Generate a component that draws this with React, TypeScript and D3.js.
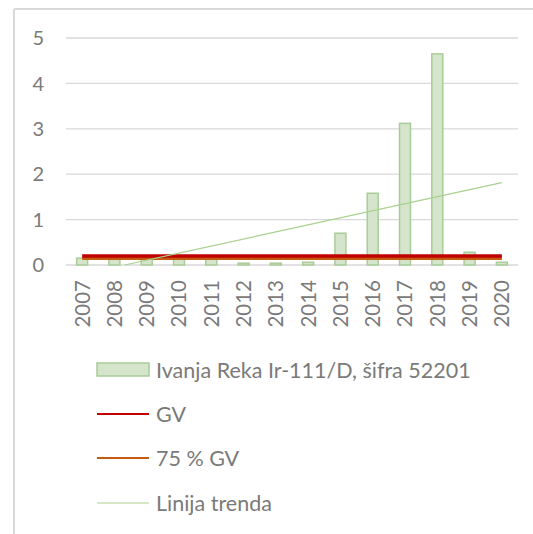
import React from 'react';
import * as d3 from 'd3';

const years = ['2007', '2008', '2009', '2010', '2011', '2012', '2013', '2014', '2015', '2016', '2017', '2018', '2019', '2020'];
const values = [0.15, 0.15, 0.15, 0.15, 0.15, 0.04, 0.04, 0.06, 0.7, 1.58, 3.12, 4.65, 0.28, 0.06];
const gv = 0.2;
const gv75 = 0.15;
const yTicks = [0, 1, 2, 3, 4, 5];
const seriesName = 'Ivanja Reka Ir-111/D, šifra 52201';
const legendNames = [seriesName, 'GV', '75 % GV', 'Linija trenda'];

const font = 'Lato, "Open Sans", sans-serif';
const textColor = '#7a7a7a';

const App = () => {
  const width = 533;
  const height = 534;
  const margin = { left: 66, right: 15 };

  const x = d3.scaleBand<string>().domain(years).range([margin.left, width - margin.right]).paddingInner(0.66).paddingOuter(0.33);
  const y = d3.scaleLinear().domain([0, 5]).range([265, 38]);
  const cx = (d: string) => (x(d) as number) + x.bandwidth() / 2;

  // linear trend (least squares over index 1..n), clipped to 0
  const n = values.length;
  const xs = values.map((_, i) => i + 1);
  const mx = d3.mean(xs) as number;
  const my = d3.mean(values) as number;
  const slope = d3.sum(xs, (xi, i) => (xi - mx) * (values[i] - my)) / d3.sum(xs, (xi) => (xi - mx) ** 2);
  const icpt = my - slope * mx;
  const x0 = -icpt / slope;
  const step = cx(years[1]) - cx(years[0]);
  const trendStartX = cx(years[0]) + (Math.max(1, x0) - 1) * step;
  const trendStartY = Math.max(0, icpt + slope * Math.max(1, x0));
  const trendEndY = icpt + slope * n;

  const gvLine = d3.line<number>().x((_, i) => cx(years[i])).y((v) => y(v));

  const legendY = [370, 414, 458, 503];

  return (
    <svg width={width} height={height} style={{ position: 'absolute', left: 0, top: 0, background: '#fff' }}>
      <rect x={0} y={0} width={width} height={height} fill="#fff" />
      <line x1={14} y1={9} x2={width} y2={9} stroke="#d9d9d9" strokeWidth={2} />
      <line x1={14} y1={9} x2={14} y2={height} stroke="#d9d9d9" strokeWidth={2} />

      {yTicks.map((t) => (
        <g key={t}>
          <line x1={margin.left} x2={width - margin.right} y1={y(t)} y2={y(t)} stroke="#d9d9d9" strokeWidth={1.3} />
          <text x={44} y={y(t)} dy="0.36em" textAnchor="end" fontFamily={font} fontSize={20} fill={textColor}>
            {t}
          </text>
        </g>
      ))}

      {years.map((yr, i) => (
        <rect
          key={yr}
          x={x(yr)}
          y={y(values[i])}
          width={x.bandwidth()}
          height={y(0) - y(values[i])}
          fill="#d5e5cb"
          stroke="#a9cc99"
          strokeWidth={1.5}
        />
      ))}

      <path d={gvLine(years.map(() => gv75)) as string} stroke="#c55a11" strokeWidth={3.5} fill="none" />
      <path d={gvLine(years.map(() => gv)) as string} stroke="#c00000" strokeWidth={3.5} fill="none" />
      <line x1={trendStartX} y1={y(trendStartY)} x2={cx(years[n - 1])} y2={y(trendEndY)} stroke="#a9d18e" strokeWidth={1.2} />

      {years.map((yr) => (
        <text
          key={yr}
          transform={`translate(${cx(yr)},280) rotate(-90)`}
          textAnchor="end"
          dy="0.36em"
          fontFamily={font}
          fontSize={20.5}
          fill={textColor}
        >
          {yr}
        </text>
      ))}

      <rect x={97} y={363} width={52} height={13} fill="#d5e5cb" stroke="#a9cc99" strokeWidth={1.5} />
      <line x1={97} x2={149} y1={legendY[1]} y2={legendY[1]} stroke="#c00000" strokeWidth={1.8} />
      <line x1={97} x2={149} y1={legendY[2]} y2={legendY[2]} stroke="#c55a11" strokeWidth={1.8} />
      <line x1={97} x2={149} y1={legendY[3]} y2={legendY[3]} stroke="#a9d18e" strokeWidth={1} />
      {legendNames.map((name, i) => (
        <text key={name} x={156} y={legendY[i]} dy="0.36em" fontFamily={font} fontSize={21.5} fill={textColor}>
          {name}
        </text>
      ))}
    </svg>
  );
};

export default App;
